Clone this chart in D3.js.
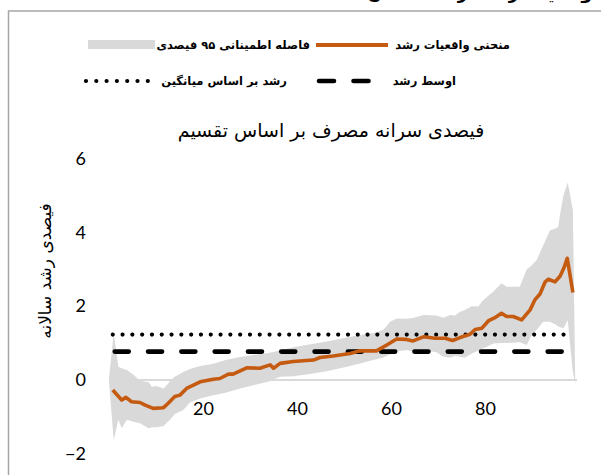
<!DOCTYPE html>
<html>
<head>
<meta charset="utf-8">
<script src="https://cdn.jsdelivr.net/npm/d3@7"></script>
<style>
  html, body { margin: 0; padding: 0; background: #fff; }
  svg { display: block; }
  .fa { font-family: "DejaVu Sans", sans-serif; }
  .num { font-family: Lato, "Open Sans", sans-serif; }
</style>
</head>
<body>
<svg id="chart" width="601" height="475"></svg>
<script>
// Growth incidence curve: annual growth of per-capita consumption by percentile

// observed growth curve (percentile, annual growth %)
const curvePct = [0.8, 2.7, 3.6, 4.8, 6.6, 7.7, 9.4, 11.6, 12.6, 14, 15.1, 16.5, 19.4, 22.2, 23.6, 25.4, 26.4, 29.3, 32.1, 34.3, 35, 36.4, 39.2, 43.5, 44.9, 47.7, 51.3, 53.4, 56.9, 59.1, 61.2, 63.3, 64.7, 66.9, 69.4, 71.5, 73.1, 74.7, 76.8, 77.9, 79.3, 80.7, 82.1, 83.5, 84.6, 86, 87.8, 89.6, 90.6, 91.7, 92.8, 93.5, 94.9, 96, 96.8, 97.5, 98.7];
const curveVal = [-0.27, -0.54, -0.47, -0.59, -0.61, -0.68, -0.77, -0.75, -0.63, -0.45, -0.41, -0.23, -0.05, 0.02, 0.04, 0.16, 0.16, 0.33, 0.32, 0.41, 0.32, 0.45, 0.5, 0.54, 0.61, 0.65, 0.72, 0.79, 0.79, 0.95, 1.11, 1.1, 1.06, 1.17, 1.13, 1.13, 1.07, 1.15, 1.24, 1.37, 1.4, 1.6, 1.69, 1.81, 1.72, 1.72, 1.63, 1.9, 2.17, 2.33, 2.66, 2.73, 2.66, 2.82, 3.04, 3.3, 2.37];

// 95% confidence band (percentile, upper, lower)
const bandPct = [0, 1, 2, 2.7, 3.8, 5.2, 6.6, 8.4, 9.1, 10.1, 11.6, 12.3, 13, 14, 15.8, 17.2, 19.4, 22.2, 25, 27.9, 30.7, 33.9, 36.4, 39.2, 42, 46.3, 50.6, 53.4, 56.2, 58.4, 59.8, 61.2, 63.3, 64.7, 66.9, 69.7, 71.1, 72.6, 73.6, 74.7, 75.7, 77.2, 78.6, 79.3, 80.4, 81.8, 83.5, 84.6, 87.4, 88.9, 89.9, 91, 92.4, 93.8, 95.2, 95.6, 96, 96.7, 97.6, 98.7, 99.2];
const bandHi = [0.05, 1.27, 0.36, 0.32, 0.27, 0.14, -0.02, -0.06, -0.18, -0.16, -0.23, -0.14, -0.03, 0.09, 0.22, 0.3, 0.38, 0.44, 0.55, 0.62, 0.68, 0.73, 0.8, 0.89, 0.95, 1.04, 1.15, 1.22, 1.27, 1.36, 1.58, 1.67, 1.66, 1.68, 1.76, 1.75, 1.69, 1.76, 1.75, 1.85, 1.9, 2.0, 1.99, 2.12, 2.25, 2.4, 2.62, 2.53, 2.53, 3.0, 3.1, 3.25, 3.65, 4.05, 4.12, 4.15, 4.52, 5.01, 5.35, 4.6, -0.05];
const bandLo = [-0.05, -1.63, -1.08, -1.31, -1.08, -1.13, -1.17, -1.31, -1.28, -1.28, -1.25, -1.15, -1.08, -0.92, -0.81, -0.61, -0.5, -0.41, -0.34, -0.23, -0.14, -0.05, 0.09, 0.1, 0.15, 0.24, 0.36, 0.45, 0.54, 0.61, 0.7, 0.77, 0.81, 0.77, 0.81, 0.75, 0.63, 0.6, 0.66, 0.63, 0.6, 0.72, 0.8, 0.85, 0.9, 0.99, 1.0, 1.0, 1.02, 0.95, 1.22, 1.36, 1.58, 1.58, 1.49, 1.45, 1.43, 1.4, 1.62, 0.2, -0.1];

// reference lines
const growthAtMean = 1.23;   // dotted
const meanGrowth = 0.77;     // dashed
const refStart = 0.8, refEnd = 97.6;

// axis ticks
const xTicks = [20, 40, 60, 80];
const yTicks = [-2, 0, 2, 4, 6];

// texts
const titleText = "واقعیات رشد در افغانستان";
const legendItems = {
  curve: "منحنی واقعیات رشد",
  band: "فاصله اطمینانی ۹۵ فیصدی",
  meanGrowth: "اوسط رشد",
  atMean: "رشد بر اساس میانگین"
};
const xTitle = "فیصدی سرانه مصرف بر اساس تقسیم";
const yTitle = "فیصدی رشد سالانه";

const ORANGE = "#c55a11";
const BAND = "#d9d9d9";

const svg = d3.select("#chart");

const x = d3.scaleLinear().domain([0, 100]).range([109, 579]);
const y = d3.scaleLinear().domain([-2, 6]).range([453.8, 158.6]);

// heading above the frame, running off the top edge
svg.append("text").attr("class", "fa")
  .attr("x", 592).attr("y", -1.5)
  .attr("text-anchor", "start").attr("direction", "rtl")
  .attr("font-size", 17).attr("font-weight", "bold").attr("fill", "#000")
  .text(titleText);

// chart frame
svg.append("rect")
  .attr("x", 8.5).attr("y", 11).attr("width", 700).attr("height", 600)
  .attr("fill", "#fff").attr("stroke", "#a6a6a6").attr("stroke-width", 1.5);

// zero gridline
svg.append("line")
  .attr("x1", x(0)).attr("x2", x(99.6))
  .attr("y1", y(0)).attr("y2", y(0))
  .attr("stroke", "#d9d9d9").attr("stroke-width", 2);

// confidence band
const bandData = bandPct.map((p, i) => ({ p, hi: bandHi[i], lo: bandLo[i] }));
svg.append("path")
  .datum(bandData)
  .attr("fill", BAND)
  .attr("d", d3.area().x(d => x(d.p)).y0(d => y(d.lo)).y1(d => y(d.hi)));

// reference lines
svg.append("line")
  .attr("x1", x(refStart)).attr("x2", x(refEnd))
  .attr("y1", y(growthAtMean)).attr("y2", y(growthAtMean))
  .attr("stroke", "#000").attr("stroke-width", 4.2)
  .attr("stroke-linecap", "round").attr("stroke-dasharray", "0,9.8");

svg.append("line")
  .attr("x1", x(refStart) + 2).attr("x2", x(refEnd))
  .attr("y1", y(meanGrowth)).attr("y2", y(meanGrowth))
  .attr("stroke", "#000").attr("stroke-width", 4.6)
  .attr("stroke-linecap", "round").attr("stroke-dasharray", "14,19.3");

// growth curve
const curveData = curvePct.map((p, i) => ({ p, v: curveVal[i] }));
svg.append("path")
  .datum(curveData)
  .attr("fill", "none").attr("stroke", ORANGE).attr("stroke-width", 3.6)
  .attr("stroke-linejoin", "round")
  .attr("d", d3.line().x(d => x(d.p)).y(d => y(d.v)));

// y axis labels
const yAxis = svg.append("g").attr("transform", "translate(86,0)")
  .call(d3.axisLeft(y).tickValues(yTicks).tickSize(0).tickPadding(0).tickFormat(d3.format("d")));
yAxis.select(".domain").remove();
yAxis.selectAll("text").attr("class", "num").attr("font-size", 18).attr("fill", "#000")
  .attr("font-family", null);

// x axis labels sit just below the zero line
const xAxis = svg.append("g").attr("transform", `translate(0,${y(0) + 22})`)
  .call(d3.axisBottom(x).tickValues(xTicks).tickSize(0).tickPadding(0).tickFormat(d3.format("d")));
xAxis.select(".domain").remove();
xAxis.selectAll("text").attr("class", "num").attr("font-size", 18).attr("fill", "#000")
  .attr("font-family", null);

// axis titles
svg.append("text").attr("class", "fa")
  .attr("x", 331).attr("y", 137)
  .attr("text-anchor", "middle").attr("direction", "rtl")
  .attr("font-size", 19).attr("fill", "#000")
  .text(xTitle);

svg.append("text").attr("class", "fa")
  .attr("transform", "translate(51,271) rotate(-90)")
  .attr("text-anchor", "middle").attr("direction", "rtl")
  .attr("font-size", 17).attr("fill", "#000")
  .text(yTitle);

// legend
const lg = svg.append("g");
lg.append("rect").attr("x", 88).attr("y", 40).attr("width", 67).attr("height", 9).attr("fill", BAND);
lg.append("text").attr("class", "fa").attr("x", 310).attr("y", 49)
  .attr("text-anchor", "start").attr("direction", "rtl")
  .attr("font-size", 11.5).attr("font-weight", "bold").text(legendItems.band);
lg.append("line").attr("x1", 316).attr("x2", 388).attr("y1", 45).attr("y2", 45)
  .attr("stroke", ORANGE).attr("stroke-width", 4);
lg.append("text").attr("class", "fa").attr("x", 510).attr("y", 49)
  .attr("text-anchor", "start").attr("direction", "rtl")
  .attr("font-size", 11.5).attr("font-weight", "bold").text(legendItems.curve);

lg.append("line").attr("x1", 86).attr("x2", 148).attr("y1", 81).attr("y2", 81)
  .attr("stroke", "#000").attr("stroke-width", 4.2)
  .attr("stroke-linecap", "round").attr("stroke-dasharray", "0,10.3");
lg.append("text").attr("class", "fa").attr("x", 287).attr("y", 85)
  .attr("text-anchor", "start").attr("direction", "rtl")
  .attr("font-size", 11.5).attr("font-weight", "bold").text(legendItems.atMean);
lg.append("line").attr("x1", 319).attr("x2", 371).attr("y1", 81).attr("y2", 81)
  .attr("stroke", "#000").attr("stroke-width", 4.6)
  .attr("stroke-linecap", "round").attr("stroke-dasharray", "15,19.5");
lg.append("text").attr("class", "fa").attr("x", 456).attr("y", 85)
  .attr("text-anchor", "start").attr("direction", "rtl")
  .attr("font-size", 11.5).attr("font-weight", "bold").text(legendItems.meanGrowth);
</script>
</body>
</html>
